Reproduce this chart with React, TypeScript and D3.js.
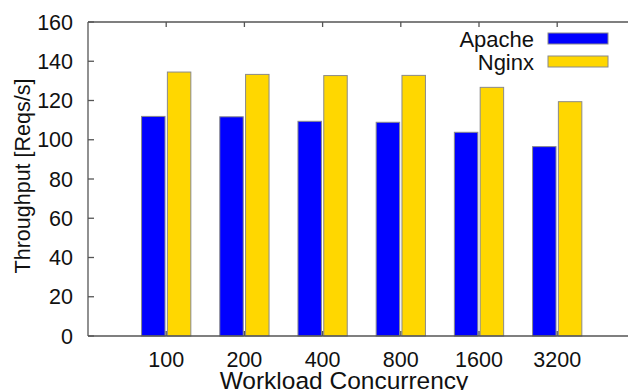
import React from 'react'
import * as d3 from 'd3'

const categories = ['100', '200', '400', '800', '1600', '3200']
const apache = [111.9, 111.7, 109.4, 108.9, 103.8, 96.5]
const nginx = [134.5, 133.3, 132.7, 132.8, 126.7, 119.4]
const yTicks = [0, 20, 40, 60, 80, 100, 120, 140, 160]

const W = 628
const H = 390
const FONT = '"Liberation Sans", Arial, sans-serif'

function App() {
  const left = 88
  const top = 22
  const bottom = 336
  // x: gnuplot-style index axis, frame runs off the right edge
  const x = d3.scaleLinear().domain([-1, 7]).range([left, left + 8 * 78.2])
  const y = d3.scaleLinear().domain([0, 160]).range([bottom, top])
  const bw = x(0.3) - x(0)
  const frame = '#555'
  const series = [
    {name: 'Apache', values: apache, color: '#0000ff', off: -0.165},
    {name: 'Nginx', values: nginx, color: '#ffd700', off: 0.165},
  ]

  return (
    <>
      <style>{'html,body{margin:0;padding:0;overflow:hidden}'}</style>
      <svg width={W} height={H} style={{display: 'block'}} fontFamily={FONT}>
        <rect width={W} height={H} fill="white" />
        {/* bars */}
        {series.map(s =>
          s.values.map((v, i) => (
            <rect
              key={s.name + i}
              x={x(i + s.off) - bw / 2}
              y={y(v)}
              width={bw}
              height={y(0) - y(v)}
              fill={s.color}
              stroke="#8a8a8a"
              strokeWidth={1}
            />
          )),
        )}
        {/* frame */}
        <line x1={left} x2={W} y1={top} y2={top} stroke={frame} strokeWidth={1.3} />
        <line x1={left} x2={W} y1={bottom} y2={bottom} stroke={frame} strokeWidth={1.3} />
        <line x1={left} x2={left} y1={top} y2={bottom} stroke={frame} strokeWidth={1.3} />
        {/* y ticks */}
        {yTicks.map(t => (
          <g key={t}>
            <line x1={left} x2={left + 6} y1={y(t)} y2={y(t)} stroke={frame} strokeWidth={1.3} />
            <text x={73} y={y(t) + 7.5} textAnchor="end" fontSize={21.5} fill="#111">
              {t}
            </text>
          </g>
        ))}
        {/* x ticks */}
        {categories.map((c, i) => (
          <g key={c}>
            <line x1={x(i)} x2={x(i)} y1={bottom} y2={bottom - 5} stroke={frame} strokeWidth={1.3} />
            <line x1={x(i)} x2={x(i)} y1={top} y2={top + 5} stroke={frame} strokeWidth={1.3} />
            <text x={x(i)} y={366.5} textAnchor="middle" fontSize={21.5} fill="#111">
              {c}
            </text>
          </g>
        ))}
        <text x={344} y={389} textAnchor="middle" fontSize={24.5} fill="#111">
          Workload Concurrency
        </text>
        <text
          transform={`translate(30,176) rotate(-90)`}
          textAnchor="middle"
          fontSize={21.5}
          fill="#111">
          Throughput [Reqs/s]
        </text>
        {/* legend */}
        {series.map((s, i) => (
          <g key={s.name}>
            <text x={534} y={47 + i * 23} textAnchor="end" fontSize={22} fill="#111">
              {s.name}
            </text>
            <rect x={548} y={33 + i * 23} width={60} height={11} fill={s.color} stroke="#8a8a8a" strokeWidth={1} />
          </g>
        ))}
      </svg>
    </>
  )
}

export default App
